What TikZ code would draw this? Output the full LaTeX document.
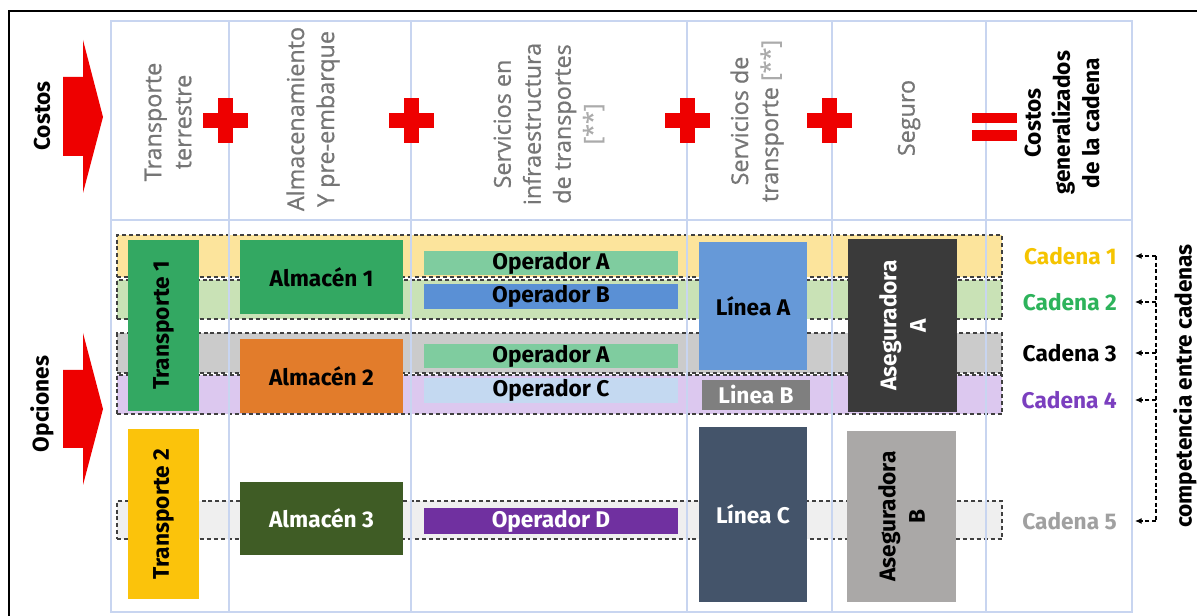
\documentclass[tikz,border=0pt]{standalone}
\usepackage{fontspec}
\setmainfont{Open Sans}
\newfontfamily\lblfont{Fira Sans}
\newfontface\hdrfont{Open Sans}[FakeBold=0.7]
\usetikzlibrary{arrows.meta,fit}
\definecolor{redc}{HTML}{EE0000}
\definecolor{gridc}{HTML}{C8D5F0}
\definecolor{hdrgray}{HTML}{767676}
\definecolor{lightgray}{HTML}{ABABAB}
\definecolor{bandline}{HTML}{404040}
\definecolor{bandyel}{HTML}{FCE49C}
\definecolor{bandgrn}{HTML}{C9E2B6}
\definecolor{bandgry}{HTML}{CBCBCB}
\definecolor{bandlav}{HTML}{DCC8EF}
\definecolor{bandwht}{HTML}{EFEFEF}
\definecolor{grn}{HTML}{33A862}
\definecolor{orng}{HTML}{E27C2B}
\definecolor{mint}{HTML}{7FCC9F}
\definecolor{blueb}{HTML}{5A90D5}
\definecolor{lblue}{HTML}{C4D9F1}
\definecolor{lineaA}{HTML}{6699D8}
\definecolor{lineaB}{HTML}{7F7F7F}
\definecolor{asegA}{HTML}{3A3A3A}
\definecolor{yelt}{HTML}{FBC30B}
\definecolor{dgrn}{HTML}{3F5C25}
\definecolor{purp}{HTML}{7030A0}
\definecolor{slate}{HTML}{44546A}
\definecolor{asegB}{HTML}{AAA8A7}
\definecolor{cad1}{HTML}{F5C400}
\definecolor{cad2}{HTML}{2DB35B}
\definecolor{cad4}{HTML}{7B3FBF}
\definecolor{cad5}{HTML}{A0A0A0}
\begin{document}
\begin{tikzpicture}[x=0.75pt,y=-0.75pt,
  hdr/.style={rotate=90, align=center, text=hdrgray, inner sep=0,
    font=\hdrfont\fontsize{17.5}{22.5}\selectfont},
  bold/.style={font=\lblfont\bfseries\fontsize{17}{22}\selectfont},
  band/.style={draw=bandline, dash pattern=on 3pt off 2.2pt, line width=0.8pt, inner sep=0},
  box/.style={inner sep=0, draw=none},
  cad/.style={bold, anchor=east, inner sep=0},
  conn/.style={draw=black, line width=0.8pt, dash pattern=on 3pt off 2pt},
  redplus/.pic={\fill[redc] (-22.5,-7.5) rectangle (22.5,7.5);
                \fill[redc] (-7.5,-22.5) rectangle (7.5,22.5);}
]
\clip (0,0) rectangle (1197,616);
\fill[white] (0,0) rectangle (1197,616);
\draw[line width=1.5pt] (9,11) rectangle (1205,625);

% bands
\node[band, fill=bandyel, fit={(117,235)(1002,277)}] (b1) {};
\node[band, fill=bandgrn, fit={(117,280)(1002,319)}] (b2) {};
\node[band, fill=bandgry, fit={(117,333)(1002,373)}] (b3) {};
\node[band, fill=bandlav, fit={(117,375)(1002,414)}] (b4) {};
\node[band, fill=bandwht, fit={(117,501)(1002,539)}] (b5) {};

% grid
\draw[gridc, line width=1.2pt] (111,21) rectangle (1132,612);
\foreach \gx in {229,411,687,832,986} \draw[gridc, line width=1.2pt] (\gx,21) -- (\gx,612);
\draw[gridc, line width=1.2pt] (111,220) -- (1132,220);

% red arrows
\fill[redc] (63,77) -- (83,77) -- (83,40) -- (103,117) -- (83,193) -- (83,156) -- (63,156) -- cycle;
\fill[redc] (63,370) -- (83,370) -- (83,333) -- (103,409) -- (83,485) -- (83,448) -- (63,448) -- cycle;
\node[bold, rotate=90] (costos) at (42,116) {Costos};
\node[bold, rotate=90] (opciones) at (42,404) {Opciones};

% plus / equals
\pic at (225.5,120.5) {redplus};
\pic at (411.5,120.5) {redplus};
\pic at (687.5,120.5) {redplus};
\pic at (829.5,120.5) {redplus};
\fill[redc] (972,113) rectangle (1017,123);
\fill[redc] (972,130) rectangle (1017,141);

% headers
\node[hdr] (h1) at (168,122) {Transporte\\terrestre};
\node[hdr] (h2) at (313,119) {Almacenamiento\\Y pre-embarque};
\node[hdr] (h3) at (549,124) {Servicios en\\infraestructura\\de transportes\\{\color{lightgray}[**]}};
\node[hdr] (h4) at (757,121) {Servicios de\\transporte {\color{lightgray}[**]}};
\node[hdr] (h5) at (909,118) {Seguro};
\node[bold, rotate=90, align=center, inner sep=0] (h6) at (1062,123) {Costos\\generalizados\\de la cadena};

% boxes
\node[box, fill=grn, fit={(128,240)(199,411)}, label={[bold, rotate=90]center:Transporte 1}] (tr1) {};
\node[box, fill=yelt, fit={(128,429)(199,599)}, label={[bold, rotate=90]center:Transporte 2}] (tr2) {};
\node[box, fill=grn, fit={(240,240)(403,314)}, label={[bold]center:Almacén 1}] (al1) {};
\node[box, fill=orng, fit={(240,339)(403,413)}, label={[bold]center:Almacén 2}] (al2) {};
\node[box, fill=dgrn, fit={(240,482)(403,555)}, label={[bold, text=white]center:Almacén 3}] (al3) {};
\node[box, fill=mint, fit={(424,251)(678,275)}, label={[bold]center:Operador A}] (opa1) {};
\node[box, fill=blueb, fit={(424,284)(678,309)}, label={[bold]center:Operador B}] (opb) {};
\node[box, fill=mint, fit={(424,344)(678,368)}, label={[bold]center:Operador A}] (opa2) {};
\node[box, fill=lblue, fit={(424,378)(678,403)}, label={[bold]center:Operador C}] (opc) {};
\node[box, fill=purp, fit={(424,508)(678,534)}, label={[bold, text=white]center:Operador D}] (opd) {};
\node[box, fill=lineaA, fit={(699,242)(807,370)}, label={[bold]center:Línea A}] (la) {};
\node[box, fill=lineaB, fit={(702,380)(810,410)}, label={[bold, text=white]center:Linea B}] (lb) {};
\node[box, fill=slate, fit={(699,427)(807,602)}, label={[bold, text=white]center:Línea C}] (lc) {};
\node[box, fill=asegA, fit={(848,239)(957,412)}, label={[bold, rotate=90, align=center, text=white]center:Aseguradora\\A}] (asa) {};
\node[box, fill=asegB, fit={(847,431)(956,602)}, label={[bold, rotate=90, align=center]center:Aseguradora\\B}] (asb) {};

% cadena labels
\node[cad, text=cad1] (c1) at (1117,256) {Cadena 1};
\node[cad, text=cad2] (c2) at (1117,302) {Cadena 2};
\node[cad, text=black] (c3) at (1117,353) {Cadena 3};
\node[cad, text=cad4] (c4) at (1117,400) {Cadena 4};
\node[cad, text=cad5] (c5) at (1117,521) {Cadena 5};

\coordinate (t1) at (1156,256);
\coordinate (t2) at (1156,302);
\coordinate (t3) at (1156,353);
\coordinate (t4) at (1156,400);
\coordinate (t5) at (1156,521);
\draw[conn] (t1) -- (t5);
\foreach \i in {1,...,5}
  \draw[conn, shorten >=13.5pt, -{Latex[length=5pt,width=4.5pt]}] (t\i) -- (c\i);

\node[bold, rotate=90] (comp) at (1185,386) {competencia entre cadenas};
\end{tikzpicture}
\end{document}
